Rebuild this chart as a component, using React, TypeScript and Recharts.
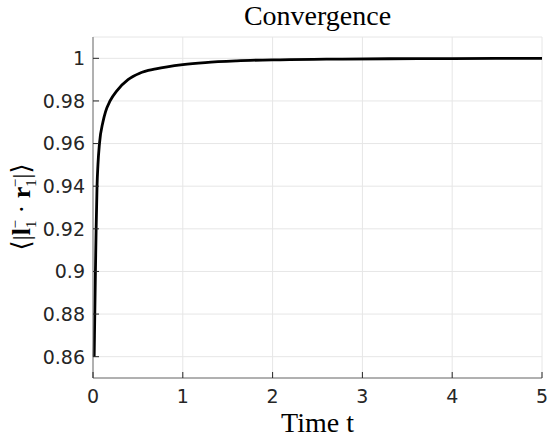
import React from 'react'
import { LineChart, Line, XAxis, YAxis, CartesianGrid } from 'recharts'

// values
const timeValues = [0.013, 0.02, 0.027, 0.035, 0.045, 0.055, 0.072, 0.11, 0.14, 0.19, 0.27, 0.39, 0.52, 0.7, 1.0, 1.25, 1.6, 2.0, 2.6, 3.3, 4.0, 5.0]
const overlapValues = [0.86, 0.88, 0.9, 0.92, 0.94, 0.95, 0.96, 0.97, 0.975, 0.98, 0.985, 0.99, 0.993, 0.995, 0.997, 0.998, 0.9988, 0.9993, 0.9996, 0.9998, 0.9999, 1.0]

const xTicks = [0, 1, 2, 3, 4, 5]
const xTickLabels = ['0', '1', '2', '3', '4', '5']
const yTicks = [0.86, 0.88, 0.9, 0.92, 0.94, 0.96, 0.98, 1]
const yTickLabels = ['0.86', '0.88', '0.9', '0.92', '0.94', '0.96', '0.98', '1']

const data = timeValues.map((t, i) => ({ t, v: overlapValues[i] }))

const AXIS = '#6f6f6f'
const TEXT = '#262626'
const SANS = '"DejaVu Sans", sans-serif'
const SERIF = '"Liberation Serif", "DejaVu Serif", serif'

function BottomTick({ x, y, payload }: any) {
  const i = xTicks.indexOf(payload.value)
  return (
    <g>
      <line x1={x} x2={x} y1={y} y2={y - 6} stroke={TEXT} />
      <text x={x} y={y + 25} textAnchor="middle" fontFamily={SANS} fontSize={19} fill={TEXT}>
        {xTickLabels[i]}
      </text>
    </g>
  )
}

function TopTick({ x, y }: any) {
  return <line x1={x} x2={x} y1={y} y2={y + 6} stroke={TEXT} />
}

function LeftTick({ x, y, payload }: any) {
  const i = yTicks.indexOf(payload.value)
  return (
    <g>
      <line x1={x} x2={x + 6} y1={y} y2={y} stroke={TEXT} />
      <text x={x - 8} y={y} dy="0.36em" textAnchor="end" fontFamily={SANS} fontSize={19} fill={TEXT}>
        {yTickLabels[i]}
      </text>
    </g>
  )
}

function RightTick({ x, y }: any) {
  return <line x1={x} x2={x - 6} y1={y} y2={y} stroke={TEXT} />
}

export default function App() {
  return (
    <div style={{ position: 'absolute', left: 0, top: 0, width: 550, height: 437, background: '#fff' }}>
      <LineChart width={550} height={437} data={data} margin={{ top: 37, right: 8, left: 0, bottom: 0 }}>
        <CartesianGrid stroke="#e6e6e6" strokeWidth={1} />
        <XAxis
          dataKey="t"
          type="number"
          domain={[0, 5]}
          ticks={xTicks}
          interval={0}
          height={59}
          tickSize={0}
          tickMargin={0}
          tickLine={false}
          axisLine={{ stroke: AXIS }}
          tick={<BottomTick />}
        />
        <XAxis
          xAxisId="top"
          orientation="top"
          dataKey="t"
          type="number"
          domain={[0, 5]}
          ticks={xTicks}
          interval={0}
          height={0}
          tickSize={0}
          tickMargin={0}
          tickLine={false}
          axisLine={{ stroke: AXIS }}
          tick={<TopTick />}
        />
        <YAxis
          type="number"
          domain={[0.85, 1.01]}
          ticks={yTicks}
          interval={0}
          width={93}
          tickSize={0}
          tickMargin={0}
          tickLine={false}
          axisLine={{ stroke: AXIS }}
          tick={<LeftTick />}
        />
        <YAxis
          yAxisId="right"
          orientation="right"
          type="number"
          domain={[0.85, 1.01]}
          ticks={yTicks}
          interval={0}
          width={0}
          tickSize={0}
          tickMargin={0}
          tickLine={false}
          axisLine={{ stroke: AXIS }}
          tick={<RightTick />}
        />
        <Line
          type="monotone"
          dataKey="v"
          stroke="#000"
          strokeWidth={2.8}
          dot={false}
          isAnimationActive={false}
        />
        <text x={317.5} y={25} textAnchor="middle" fontFamily={SERIF} fontSize={28} fill="#000">
          Convergence
        </text>
        <text x={317.5} y={432} textAnchor="middle" fontFamily={SERIF} fontSize={28} fill="#000">
          Time t
        </text>
        <text
          transform="translate(30,207) rotate(-90)"
          textAnchor="middle"
          fontFamily={SERIF}
          fontSize={26}
          fill="#000"
        >
          <tspan>⟨|</tspan>
          <tspan fontWeight="bold">l</tspan>
          <tspan fontSize={15} dy={6}>1</tspan>
          <tspan fontSize={15} dx={-8} dy={-16}>−</tspan>
          <tspan dy={10}> · </tspan>
          <tspan fontWeight="bold">r</tspan>
          <tspan fontSize={15} dy={6}>1</tspan>
          <tspan fontSize={15} dx={-8} dy={-16}>−</tspan>
          <tspan dy={10}>|⟩</tspan>
        </text>
      </LineChart>
    </div>
  )
}
